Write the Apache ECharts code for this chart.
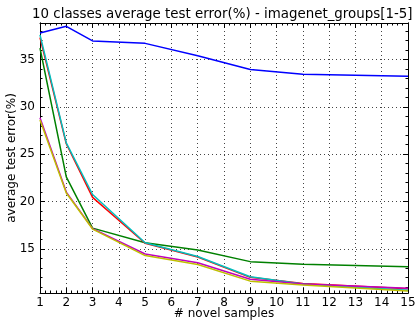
<!DOCTYPE html>
<html>
<head>
<meta charset="utf-8">
<script src="https://cdn.jsdelivr.net/npm/echarts@6/dist/echarts.min.js"></script>
<style>html,body{margin:0;padding:0;background:#fff}#c{width:416px;height:323px}</style>
</head>
<body>
<div id="c"></div>
<script>
var samples = [1, 2, 3, 5, 7, 9, 11, 15];
var blueVals    = [37.8, 38.5, 36.96, 36.7, 35.4, 33.94, 33.45, 33.22];
var greenVals   = [36.2, 22.6, 17.2, 15.65, 14.9, 13.66, 13.38, 13.13];
var redVals     = [37.3, 26.1, 20.45, 15.6, 14.15, 12.0, 11.35, 10.8];
var cyanVals    = [37.6, 26.2, 20.75, 15.65, 14.2, 12.07, 11.3, 10.65];
var magentaVals = [28.85, 21.0, 17.15, 14.47, 13.55, 11.8, 11.3, 10.85];
var yellowVals  = [28.6, 20.9, 17.1, 14.3, 13.35, 11.6, 11.2, 10.55];
var yMajorTicks = [15, 20, 25, 30, 35];
var yMinorTicks = [11,12,13,14,16,17,18,19,21,22,23,24,26,27,28,29,31,32,33,34,36,37,38];
var Y_MIN = 10.35, Y_MAX = 38.85;

var font = 'DejaVu Sans';
function pairs(v){ return samples.map(function(x,i){ return [x, v[i]]; }); }
function line(name, color, vals){
  return { name: name, type: 'line', data: pairs(vals), xAxisIndex: 0, yAxisIndex: 0,
    showSymbol: false, symbol: 'none', lineStyle: { color: color, width: 1.5 }, itemStyle: {color: color},
    animation: false, z: 3 };
}
var axisLineStyle = { show: true, onZero: false, lineStyle: { color: '#000', width: 1 } };
function xAx(pos, labels){
  return { type: 'value', position: pos, min: 1, max: 15, interval: 1,
    axisLine: axisLineStyle,
    axisTick: { show: true, inside: true, length: 5, lineStyle: { color: '#000' } },
    minorTick: { show: true, splitNumber: 5, length: 2.5, lineStyle: { color: '#000' } },
    axisLabel: { show: labels, color: '#000', fontFamily: font, fontSize: 12, margin: 4 },
    splitLine: { show: labels, lineStyle: { color: '#444', type: [1, 3], width: 1 } },
    name: labels ? '# novel samples' : '', nameLocation: 'middle', nameGap: 15, nameMoveOverlap: false,
    nameTextStyle: { color: '#000', fontFamily: font, fontSize: 12 } };
}
function yAx(pos, major, labels){
  var vals = major ? yMajorTicks : yMinorTicks;
  return { type: 'value', position: pos, min: Y_MIN, max: Y_MAX,
    axisLine: axisLineStyle,
    axisTick: { show: true, inside: true, length: major ? 5 : 2.5, customValues: vals, lineStyle: { color: '#000' } },
    axisLabel: { show: labels, customValues: yMajorTicks, color: '#000', fontFamily: font, fontSize: 12, margin: 5 },
    splitLine: { show: labels, customValues: yMajorTicks, lineStyle: { color: '#444', type: [1, 3], width: 1 } },
    name: labels ? 'average test error(%)' : '', nameLocation: 'middle', nameGap: 22, nameRotate: 90, nameMoveOverlap: false,
    nameTextStyle: { color: '#000', fontFamily: font, fontSize: 12 } };
}
var chart = echarts.init(document.getElementById('c'), null, { renderer: 'canvas' });
chart.setOption({
  animation: false,
  backgroundColor: '#fff',
  title: { text: '10 classes average test error(%) - imagenet_groups[1-5]', left: 27, top: 3,
    textStyle: { color: '#000', fontFamily: font, fontSize: 13.4, fontWeight: 'normal' } },
  grid: { left: 40, right: 8, top: 23, bottom: 30, containLabel: false, outerBoundsMode: 'none' },
  xAxis: [ xAx('bottom', true), xAx('top', false) ],
  yAxis: [ yAx('left', true, true), yAx('left', false, false), yAx('right', true, false), yAx('right', false, false) ],
  series: [
    line('b', '#0000ff', blueVals),
    line('g', '#008000', greenVals),
    line('r', '#ff0000', redVals),
    line('c', '#00bfbf', cyanVals),
    line('m', '#bf00bf', magentaVals),
    line('y', '#bfbf00', yellowVals)
  ]
});
</script>
</body>
</html>
